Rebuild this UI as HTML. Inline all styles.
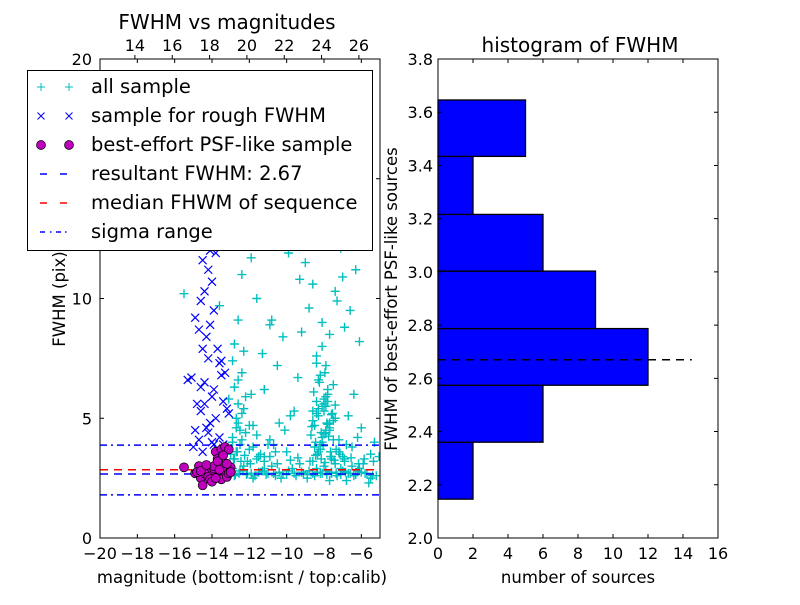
<!DOCTYPE html>
<html><head><meta charset="utf-8">
<style>
body{margin:0;background:#fff;}
svg{font-family:"DejaVu Sans","Liberation Sans",sans-serif;}
</style></head>
<body>
<svg id="fig" width="800" height="600" viewBox="0 0 800 600" xmlns="http://www.w3.org/2000/svg">
<rect width="800" height="600" fill="#fff"/>
<g id="left"></g>
<g id="right"></g>
</svg>
<script>
// ---- scatter data ----
const allMag = [-13.2,-12.8,-12.5,-12.1,-11.7,-11.3,-11.0,-10.6,-10.2,-9.9,-9.5,-9.1,-8.8,-8.5,-8.2,-7.9,-7.6,-7.3,-7.0,-6.7,-6.4,-6.1,-5.8,-5.5,-5.2,
 -12.9,-12.3,-11.8,-11.2,-10.8,-10.3,-9.7,-9.3,-8.9,-8.4,-8.0,-7.7,-7.4,-7.1,-6.8,-6.5,-6.2,-5.9,-5.6,
 -13.0,-12.9,-12.7,-12.6,-12.8,-12.4,-12.9,-12.5,-12.7,-13.1,-12.6,-12.2,-12.8,-12.4,-12.0,-12.6,-11.9,-12.3,
 -8.6,-8.3,-8.1,-7.9,-7.7,-8.4,-8.0,-7.8,-7.5,-8.2,-7.9,-7.6,-8.5,-8.1,-7.7,-7.4,-8.3,-8.0,-7.8,-7.6,-8.2,-7.9,-8.4,-8.1,-7.7,-8.0,-7.5,-8.6,-8.2,-7.8,-8.3,-7.9,-8.1,
 -11.5,-10.9,-10.4,-10.0,-9.6,-11.2,-10.7,-10.1,-9.4,-11.8,-10.5,-9.8,-6.9,-6.5,-6.0,-5.5,-6.7,-6.2,-5.3,-7.2,-6.4,
 -11.6,-10.8,-10.2,-9.3,-8.8,-7.4,-6.9,-6.3,-11.1,-9.9,-8.6,-7.1,-12.2,-10.6,-9.0,-8.2,-7.6,-6.6,-12.4,-11.3,-9.6,-8.0,-7.0,-10.9,-8.4,-7.3,-6.1,-15.5,-13.6,-11.9,-9.2,
 -12.95,-12.75,-12.55,-12.35,-12.15,-11.9,-11.5,-11.1,-10.7,-10.4,-10.0,-9.6,-9.2,-8.9,-8.6,-8.35,-8.1,-7.85,-7.6,-7.35,-7.1,-6.85,-6.6,-6.3,-6.0,-5.7,-5.4,
 -12.85,-12.65,-12.45,-12.25,-11.95,-11.6,-11.2,-10.9,-10.5,-9.8,-9.4,-8.75,-8.45,-8.15,-7.95,-7.65,-7.45,-7.15,-6.9,-6.55,-6.15,-5.85,-5.35,-5.05,
 -8.7,-8.5,-8.3,-8.1,-7.9,-7.7,-7.5,-8.6,-8.4,-8.2,-8.0,-7.8,-7.6,-7.4,-8.55,-8.25,-7.95,-7.65,-8.45,-8.15,-7.85,-7.55,-8.35,-8.05,-7.75,-8.65,-7.35,-7.2,-7.0,-6.8,
 -12.9,-12.6,-12.3,-12.7,-12.5,-12.2,-12.8,-12.4,-12.0,-11.8,-11.4,-11.0,-10.6,-12.1,-11.6,-11.2
];
const allFwhm = [2.7,2.6,2.8,2.7,2.6,2.8,2.7,2.6,2.7,2.8,2.6,2.7,2.8,2.6,2.7,2.8,2.7,2.6,2.8,2.7,2.6,2.9,2.7,2.5,2.6,
 2.9,3.0,2.5,2.9,3.0,2.5,2.9,3.1,2.5,2.9,3.0,2.4,3.1,2.9,2.4,3.0,2.8,3.1,2.3,
 3.5,4.2,5.0,5.6,6.3,6.9,7.4,3.9,4.6,5.8,6.6,4.4,8.1,5.2,3.7,9.1,6.0,7.8,
 3.2,3.6,4.0,4.4,4.8,5.2,5.6,6.0,6.4,6.8,7.2,3.4,3.8,4.2,4.6,5.0,5.4,5.8,6.2,3.3,3.9,4.5,7.6,8.0,8.5,5.3,4.1,4.9,3.7,5.7,6.6,5.5,9.0,
 3.4,4.1,4.8,3.6,5.3,6.2,3.9,4.5,6.7,4.7,7.2,5.1,3.3,3.8,4.6,3.5,5.1,4.2,4.0,3.6,6.0,
 10.0,9.1,8.4,10.8,9.6,10.3,8.8,11.2,12.4,11.9,10.6,12.1,13.3,12.8,11.5,13.9,12.6,9.5,11.0,7.7,13.0,14.6,10.9,8.9,7.3,9.9,8.2,10.2,9.7,11.7,8.6,
 2.75,2.65,2.7,2.8,2.65,2.7,2.75,2.65,2.7,2.75,2.65,2.7,2.75,2.65,2.7,2.75,2.7,2.65,2.75,2.7,2.65,2.75,2.7,2.65,2.75,2.7,2.6,
 3.3,3.6,3.2,3.45,3.1,3.3,3.2,3.4,3.1,3.25,3.35,3.2,3.45,3.3,3.15,3.4,3.25,3.5,3.2,3.35,3.1,3.3,3.2,3.4,
 4.3,4.7,5.1,5.5,5.9,4.5,4.9,5.3,5.7,3.9,4.35,4.75,5.15,5.55,6.1,6.5,6.9,3.6,4.0,4.4,4.8,5.2,3.5,3.85,4.25,4.65,3.7,4.1,3.4,3.9,
 4.0,4.8,5.4,3.6,4.5,5.9,3.3,4.1,4.7,3.8,3.5,3.9,3.6,3.2,4.3,3.4
];
const roughMag = [-14.3,-14.1,-14.5,-14.2,-14.0,-14.4,-13.8,-14.6,-14.9,-14.1,-14.3,-13.9,-14.5,-14.2,-13.7,-14.7,-15.1,-14.4,-13.6,-14.8,-13.9,-14.0,-13.5,-14.6,-13.8,-15.3,-13.4,-14.9,-13.2,-14.1,-13.6,-14.7,-13.3,-13.9,-14.2,-15.0,-13.5,-14.4,-13.1,-14.5,-14.0,-13.7,-14.3,-13.4,-14.6];
const roughFwhm = [12.4,12.0,11.6,11.2,10.7,10.3,11.9,9.9,9.2,8.9,8.4,9.5,7.9,7.5,7.9,8.7,6.7,6.5,7.3,5.6,6.2,5.9,6.8,5.3,5.0,6.6,5.7,4.5,5.4,4.8,4.2,4.1,6.9,3.9,4.4,3.8,7.4,5.6,5.2,3.6,4.0,3.7,4.6,3.9,6.3];
const psfMag = [-15.5,-14.9,-14.6,-14.3,-14.0,-13.8,-13.5,-13.3,-13.1,-14.7,-14.4,-14.2,-13.9,-13.7,-13.4,-13.2,-14.5,-14.1,-13.6,-13.3,-13.0,-14.8,-14.0,-13.5,-13.2,-14.6,-13.9,-13.1,-13.7,-13.4,-13.6,-13.2,-14.3,-13.8,-13.0];
const psfFwhm = [2.95,2.7,2.5,2.9,2.8,3.6,3.7,3.8,3.7,3.0,2.7,2.55,2.9,3.3,2.65,2.8,2.2,2.45,3.1,2.6,2.95,2.75,2.35,2.45,2.55,2.8,3.0,2.7,3.2,3.45,2.85,3.1,3.05,2.5,2.75];
const leftXTicks = [-20,-18,-16,-14,-12,-10,-8,-6];
const leftYTicks = [0,5,10,15,20];
const topTicks = [14,16,18,20,22,24,26];
const calibOffset = 32.13;
const resultFwhm = 2.67, medianFwhm = 2.85, sigmaLo = 1.8, sigmaHi = 3.88;
// ---- histogram data ----
const binEdges = [2.146,2.360,2.574,2.787,3.003,3.216,3.434,3.646];
const binCounts = [2,6,12,9,6,2,5];
const histXTicks = [0,2,4,6,8,10,12,14,16];
const histYTicks = [2.0,2.2,2.4,2.6,2.8,3.0,3.2,3.4,3.6,3.8];

const NS='http://www.w3.org/2000/svg';
function mk(parent,tag,attrs,text){const e=document.createElementNS(NS,tag);for(const k in attrs)e.setAttribute(k,attrs[k]);if(text!==undefined)e.textContent=text;parent.appendChild(e);return e;}
const fmt=v=>(v<0?'\u2212':'')+Math.abs(v);
const TF=16;

// ===== left =====
const L=document.getElementById('left');
const lx0=100,lx1=380,ly0=59,ly1=538;
const lxs=v=>lx0+(v+20)/15*(lx1-lx0);
const lys=v=>ly1-v/20*(ly1-ly0);
const txs=v=>lxs(v-calibOffset);
const clip=mk(L,'clipPath',{id:'lc'});mk(clip,'rect',{x:lx0,y:ly0,width:lx1-lx0,height:ly1-ly0});
const plot=mk(L,'g',{'clip-path':'url(#lc)'});


for(let i=0;i<allMag.length;i++){const x=lxs(allMag[i]),y=lys(allFwhm[i]);
 const p=mk(plot,'path',{d:`M${x-4.5} ${y}H${x+4.5}M${x} ${y-4.5}V${y+4.5}`,stroke:'#00bfbf','stroke-width':1.4});
 
 }
for(let i=0;i<roughMag.length;i++){const x=lxs(roughMag[i]),y=lys(roughFwhm[i]);
 const p=mk(plot,'path',{d:`M${x-4} ${y-4}L${x+4} ${y+4}M${x-4} ${y+4}L${x+4} ${y-4}`,stroke:'#0000ff','stroke-width':1.2});
 
 }
function hline(v,color,dash,name){const l=mk(plot,'line',{x1:lx0,x2:lx1,y1:lys(v),y2:lys(v),stroke:color,'stroke-width':1.5,'stroke-dasharray':dash});
 
 }
hline(medianFwhm,'#ff0000','8 6','median-fwhm-line');
hline(resultFwhm,'#0000ff','8 6','resultant-fwhm-line');
hline(sigmaHi,'#0000ff','7 4 2 4','sigma-upper-line');
hline(sigmaLo,'#0000ff','7 4 2 4','sigma-lower-line');
for(let i=0;i<psfMag.length;i++){const c=mk(plot,'circle',{cx:lxs(psfMag[i]),cy:lys(psfFwhm[i]),r:4.5,fill:'#bf00bf',stroke:'#000','stroke-width':0.7});
 
 }
mk(L,'rect',{x:lx0,y:ly0,width:lx1-lx0,height:ly1-ly0,fill:'none',stroke:'#000','stroke-width':1});
leftXTicks.forEach(v=>{const x=lxs(v);mk(L,'path',{d:`M${x} ${ly1}v-4M${x} ${ly0}v4`,stroke:'#000'});
 const t=mk(L,'text',{x:x,y:ly1+21,'text-anchor':'middle','font-size':TF},fmt(v));
 
 });
leftYTicks.forEach(v=>{const y=lys(v);mk(L,'path',{d:`M${lx0} ${y}h4M${lx1} ${y}h-4`,stroke:'#000'});
 const t=mk(L,'text',{x:lx0-8,y:y+6,'text-anchor':'end','font-size':TF},fmt(v));
 
 });
topTicks.forEach(v=>{const x=txs(v);mk(L,'path',{d:`M${x} ${ly0}v-4`,stroke:'#000'});
 const t=mk(L,'text',{x:x,y:ly0-8,'text-anchor':'middle','font-size':TF},v);
 
 });
let t;
t=mk(L,'text',{x:242,y:583,'text-anchor':'middle','font-size':16.5},'magnitude (bottom:isnt / top:calib)');


t=mk(L,'text',{x:0,y:0,'text-anchor':'middle','font-size':16.5,transform:'translate(65,299) rotate(-90)'},'FWHM (pix)');


t=mk(L,'text',{x:227,y:29,'text-anchor':'middle','font-size':20},'FWHM vs magnitudes');


// legend
const lg=mk(L,'g',{});


mk(lg,'rect',{x:27.5,y:70.5,width:345,height:180,fill:'#fff',stroke:'#000','stroke-width':1});
const entries=[['all sample','plus'],['sample for rough FWHM','x'],['best-effort PSF-like sample','dot'],['resultant FWHM: 2.67','blue'],['median FHWM of sequence','red'],['sigma range','dashdot']];
entries.forEach((e,i)=>{const y=87+i*29;const g=mk(lg,'g',{});
 
 
 [41,69].forEach(x=>{
  if(e[1]==='plus')mk(g,'path',{d:`M${x-4} ${y}H${x+4}M${x} ${y-4}V${y+4}`,stroke:'#00bfbf'});
  if(e[1]==='x')mk(g,'path',{d:`M${x-3.5} ${y-3.5}L${x+3.5} ${y+3.5}M${x-3.5} ${y+3.5}L${x+3.5} ${y-3.5}`,stroke:'#0000ff'});
  if(e[1]==='dot')mk(g,'circle',{cx:x,cy:y,r:4.5,fill:'#bf00bf',stroke:'#000','stroke-width':0.7});});
 if(e[1]==='blue')mk(g,'path',{d:`M40 ${y}h7M60 ${y}h7`,stroke:'#0000ff','stroke-width':1.5});
 if(e[1]==='red')mk(g,'path',{d:`M40 ${y}h7M60 ${y}h7`,stroke:'#ff0000','stroke-width':1.5});
 if(e[1]==='dashdot')mk(g,'path',{d:`M40 ${y}h5M50 ${y}h1.5M56 ${y}h5M65 ${y}h1.5`,stroke:'#0000ff','stroke-width':1.5});
 mk(g,'text',{x:91,y:y+6,'font-size':19.5},e[0]);});

// ===== right =====
const R=document.getElementById('right');
const rx0=438,rx1=718,ry0=59,ry1=538;
const rxs=v=>rx0+v/16*(rx1-rx0);
const rys=v=>ry1-(v-2)/1.8*(ry1-ry0);
binCounts.forEach((c,i)=>{const y1=rys(binEdges[i+1]),y2=rys(binEdges[i]);
 const b=mk(R,'rect',{x:rx0,y:y1,width:rxs(c)-rx0,height:y2-y1,fill:'#0000ff',stroke:'#000','stroke-width':1.3});
 
 });
const dl=mk(R,'line',{x1:rx0,x2:rxs(14.5),y1:rys(resultFwhm),y2:rys(resultFwhm),stroke:'#000','stroke-width':1.5,'stroke-dasharray':'8 6'});


mk(R,'rect',{x:rx0,y:ry0,width:rx1-rx0,height:ry1-ry0,fill:'none',stroke:'#000'});
histXTicks.forEach(v=>{const x=rxs(v);mk(R,'path',{d:`M${x} ${ry1}v-4M${x} ${ry0}v4`,stroke:'#000'});
 const t=mk(R,'text',{x:x,y:ry1+21,'text-anchor':'middle','font-size':TF},v);
 
 });
histYTicks.forEach(v=>{const y=rys(v);mk(R,'path',{d:`M${rx0} ${y}h4M${rx1} ${y}h-4`,stroke:'#000'});
 const t=mk(R,'text',{x:rx0-5,y:y+6,'text-anchor':'end','font-size':TF},v.toFixed(1));
 
 });
t=mk(R,'text',{x:578,y:583,'text-anchor':'middle','font-size':16.5},'number of sources');


t=mk(R,'text',{x:0,y:0,'text-anchor':'middle','font-size':16.5,transform:'translate(397,299) rotate(-90)'},'FWHM of best-effort PSF-like sources');


t=mk(R,'text',{x:580,y:52,'text-anchor':'middle','font-size':20},'histogram of FWHM');


</script>
</body></html>
